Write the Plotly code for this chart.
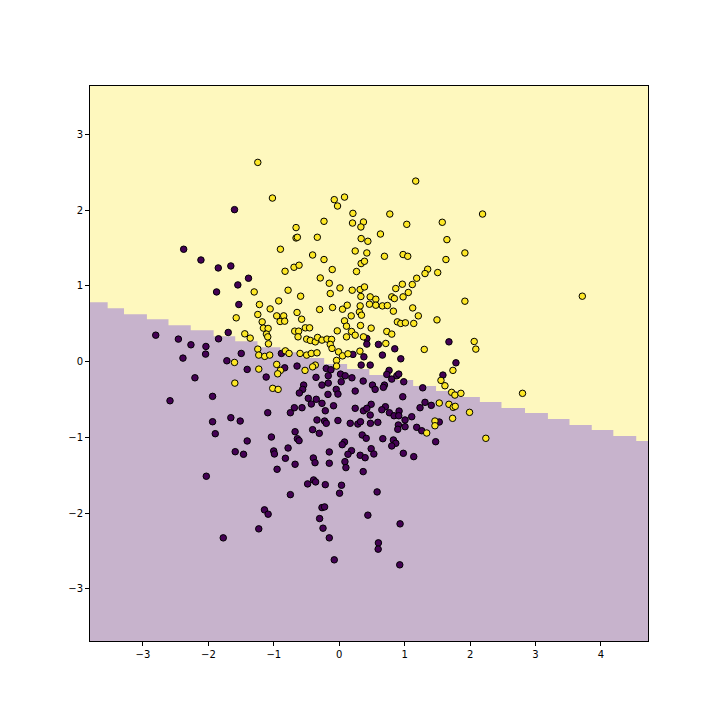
import plotly.graph_objects as go

# Decision-region boundary (staircase)
step_x_edges = [-3.81, -3.54, -3.29, -2.94, -2.61, -2.27, -1.92, -1.59, -1.25, -0.90, -0.56, -0.23,
                0.12, 0.46, 0.79, 1.13, 1.48, 1.81, 2.15, 2.48, 2.84, 3.19, 3.52, 3.86, 4.19, 4.54, 4.72]
step_levels = [0.785, 0.705, 0.626, 0.560, 0.481, 0.415, 0.336, 0.270, 0.191, 0.125, 0.046, -0.033,
               -0.099, -0.178, -0.244, -0.323, -0.389, -0.468, -0.534, -0.613, -0.679, -0.758,
               -0.838, -0.903, -0.983, -1.048]

x_range = [-3.81, 4.72]
y_range = [-3.69, 3.64]

# Class 1 (yellow) samples
class1_x = [-1.245, -1.021, -0.076, -0.026, 0.081, 0.209, -0.233, 0.203, 0.370, 0.331, -0.660, 0.630,
            -0.660, -0.640, -0.335, 0.335, 0.4375, -0.899, 0.244, 0.422, 0.691, -0.407, -0.233, 0.335,
            0.386, -0.691, -0.614, -0.828, -0.107, 0.264, -0.290, -0.152, 0.011, -0.782, 0.198, 0.320,
            0.386, 1.169, 0.773, 2.191, 1.032, 1.575, 1.646, 0.976, 1.047, 1.921, 1.631, 1.352, 1.311,
            1.505, 1.184, 0.965, 1.117, 0.864, -1.300, -1.220, -1.575, -1.245, -1.444, -1.361, -1.601,
            -1.245, -1.230, -1.230, -1.596, -0.590, -0.137, 0.331, 0.473, 0.559, -0.925, -1.056, -0.300,
            -0.102, 0.050, 0.122, 0.309, 0.320, 0.462, 0.559, 0.660, -0.645, -0.956, -0.849, -0.904,
            -0.834, -0.575, 0.183, 0.340, 0.081, 0.111, -0.030, 0.188, 0.325, 0.488, -1.178, -1.159,
            -1.087, -1.113, -1.093, -1.082, -0.681, -0.620, -0.518, -0.453, -0.630, -0.498, -0.442,
            -0.366, -0.331, -0.264, -0.1875, -0.117, -0.137, -0.111, 0.111, 0.244, 0.370, -1.139,
            -1.063, -0.823, -0.767, -0.599, -0.498, -0.427, -0.340, -0.011, 0.050, 0.133, 0.316,
            -0.956, -0.366, -0.407, -0.041, -0.041, -0.899, -0.941, -0.523, -1.017, -0.934, 1.056,
            0.976, 0.803, 0.843, 0.736, 1.123, 1.921, 0.828, 1.209, 1.494, 0.889, 0.941, 1.011, 1.139,
            0.727, 0.803, 0.712, 1.300, 2.063, 2.088, 1.738, 1.555, 1.616, 1.718, 1.768, 1.860, 1.529,
            1.677, 1.742, 1.773, 1.992, 1.463, 1.733, 3.716, 2.802, 1.337, 1.463, 2.241]
class1_y = [2.631, 2.160, 2.139, 2.055, 2.173, 1.958, 1.853, 1.830, 1.844, 1.778, 1.770, 1.685,
            1.633, 1.642, 1.642, 1.625, 1.589, 1.484, 1.461, 1.435, 1.391, 1.408, 1.348, 1.295,
            1.325, 1.246, 1.273, 1.193, 1.216, 1.190, 1.105, 1.035, 0.973, 0.943, 0.943, 0.952,
            0.986, 2.384, 1.949, 1.949, 1.813, 1.840, 1.611, 1.414, 1.391, 1.435, 1.348, 1.220,
            1.163, 1.176, 1.101, 1.022, 1.018, 0.965, 0.920, 0.754, 0.578, 0.622, 0.367, 0.310,
            -0.011, 0.165, 0.086, -0.099, -0.284, 0.864, 0.899, 0.860, 0.855, 0.824, 0.802, 0.696,
            0.688, 0.715, 0.692, 0.745, 0.657, 0.736, 0.758, 0.745, 0.736, 0.649, 0.604, 0.604,
            0.530, 0.534, 0.560, 0.604, 0.613, 0.538, 0.468, 0.406, 0.398, 0.477, 0.442, 0.525,
            0.442, 0.438, 0.363, 0.327, 0.235, 0.402, 0.402, 0.446, 0.446, 0.327, 0.297, 0.280,
            0.261, 0.319, 0.284, 0.297, 0.293, 0.227, 0.174, 0.327, 0.349, 0.327, 0.069, 0.086,
            0.142, 0.108, 0.108, 0.086, 0.108, 0.116, 0.129, 0.076, 0.103, 0.138, -0.037, -0.046,
            -0.069, 0.016, -0.059, -0.116, -0.161, -0.116, -0.353, -0.367, 0.913, 0.855, 0.855,
            0.833, 0.741, 0.709, 0.798, 0.666, 0.604, 0.551, 0.525, 0.504, 0.512, 0.504, 0.398,
            0.363, 0.240, 0.161, 0.266, 0.165, -0.116, -0.248, -0.319, -0.406, -0.442, -0.419,
            -0.547, -0.564, -0.604, -0.591, -0.670, -0.785, -0.749, 0.864, -0.419, -0.943, -0.847,
            -1.013]

# Class 0 (purple) samples
class0_x = [-1.601, -2.378, -2.114, -1.849, -1.657, -1.387, -1.550, -1.875, -1.535, -2.805, -2.459,
            -2.267, -2.038, -1.845, -1.697, -2.389, -2.043, -1.498, -1.718, -1.407, -2.206, -1.936,
            -2.587, -1.936, -1.657, -1.514, 0.422, 0.422, 0.599, -0.884, 0.209, 0.377, 0.660, -0.645,
            -0.834, 0.335, 0.473, -0.198, -0.127, 0.020, 0.091, 0.194, -1.117, -0.168, -0.355, 0.030,
            0.366, 0.508, -0.264, -0.168, -0.544, -0.559, -0.610, -0.046, 0.244, 0.549, -0.172,
            -0.020, -0.351, -0.473, -0.264, -0.427, 0.488, 0.244, 0.370, 0.422, -0.686, -0.569,
            -0.087, -1.093, -0.747, -0.213, 0.473, 1.677, 0.849, 0.941, 1.784, 1.585, 0.762, 0.727,
            0.803, 0.880, 0.910, 0.986, 0.691, 0.675, 1.276, 0.971, 1.311, 1.407, 1.235, 0.706,
            0.651, 0.767, 0.915, 0.838, 0.910, 1.108, 1.006, 1.529, -1.895, -1.407, -1.590, -1.463,
            -2.032, -1.230, -1.773, -0.340, -0.224, -0.198, -0.020, 0.168, 0.285, 0.325, 0.477,
            0.590, -1.037, -0.675, -0.407, -0.305, -0.640, -0.614, 0.351, 0.412, 0.666, -0.782,
            -1.002, -0.991, -0.152, 0.081, 0.046, 0.1875, 0.133, 0.488, 0.320, 0.396, 0.529, -0.823,
            -0.396, -0.370, -0.152, 0.087, -0.675, 0.102, -0.950, 0.366, -0.392, -0.361, -0.483,
            -0.213, 0.035, 0.005, -0.747, 0.579, -0.264, -0.224, -1.143, -1.087, -0.300, 0.4375,
            -0.248, -0.152, 0.599, 0.595, -0.076, 0.904, 0.895, 1.006, 1.184, 1.261, 0.828, 0.864,
            0.803, 0.980, 1.139, 1.474, 0.930, 0.925]
class0_y = [2.007, 1.484, 1.342, 1.237, 1.263, 1.101, 1.013, 0.920, 0.754, 0.349, 0.297, 0.222,
            0.200, 0.301, 0.385, 0.046, 0.099, 0.108, 0.011, -0.103, -0.214, -0.459, -0.517, -0.794,
            -0.741, -0.785, 0.306, 0.231, 0.227, 0.108, 0.095, 0.063, 0.086, -0.059, -0.082, -0.046,
            -0.046, -0.090, -0.108, -0.165, -0.187, -0.214, -0.204, -0.187, -0.208, -0.266, -0.257,
            -0.310, -0.310, -0.284, -0.310, -0.367, -0.415, -0.367, -0.389, -0.367, -0.433, -0.429,
            -0.498, -0.485, -0.551, -0.560, -0.564, -0.617, -0.649, -0.617, -0.609, -0.609, -0.583,
            -0.675, -0.675, -0.649, -0.706, 0.261, 0.169, 0.037, -0.016, -0.178, -0.116, -0.169,
            -0.231, -0.187, -0.165, -0.266, -0.310, -0.340, -0.346, -0.464, -0.538, -0.578, -0.609,
            -0.596, -0.636, -0.675, -0.653, -0.715, -0.715, -0.728, -0.771, -0.798, -0.952, -1.048,
            -1.190, -1.224, -1.514, -2.209, -2.328, -0.771, -0.785, -0.815, -0.778, -0.815, -0.824,
            -0.794, -0.815, -0.802, -0.996, -0.926, -0.899, -0.947, -1.018, -1.044, -0.969, -1.013,
            -1.018, -1.141, -1.180, -1.220, -1.193, -1.062, -1.097, -1.176, -1.224, -1.150, -1.237,
            -1.269, -1.220, -1.277, -1.273, -1.335, -1.342, -1.321, -1.356, -1.400, -1.422, -1.453,
            -1.563, -1.589, -1.615, -1.625, -1.633, -1.738, -1.757, -1.721, -1.928, -1.919, -1.958,
            -2.015, -2.073, -2.028, -2.200, -2.328, -2.394, -2.477, -2.618, -0.837, -0.894, -0.860,
            -0.868, -0.913, -1.035, -1.079, -1.114, -1.211, -1.255, -1.058, -2.143, -2.684]

PURPLE_BG = "rgb(199,179,204)"
YELLOW_BG = "rgb(254,248,190)"
PURPLE = "#440154"
YELLOW = "#fde725"

# Build polygon of the class-0 region from the staircase lists
poly_x, poly_y = [], []
for i, lvl in enumerate(step_levels):
    poly_x += [step_x_edges[i], step_x_edges[i + 1]]
    poly_y += [lvl, lvl]
poly_x += [x_range[1], x_range[0]]
poly_y += [y_range[0], y_range[0]]

fig = go.Figure()
fig.add_trace(go.Scatter(x=poly_x, y=poly_y, fill="toself", fillcolor=PURPLE_BG,
                         mode="lines", line=dict(width=0), hoverinfo="skip", showlegend=False))

all_x = class0_x + class1_x
all_y = class0_y + class1_y
all_c = [PURPLE] * len(class0_x) + [YELLOW] * len(class1_x)
fig.add_trace(go.Scatter(x=all_x, y=all_y, mode="markers",
                         marker=dict(size=6.5, color=all_c, line=dict(color="black", width=1)),
                         showlegend=False))

axis_common = dict(showgrid=False, zeroline=False, showline=True, linecolor="black", linewidth=1,
                   mirror=True, ticks="outside", ticklen=4, tickwidth=1, tickcolor="black",
                   tickfont=dict(family="DejaVu Sans", size=10, color="black"))
fig.update_xaxes(range=x_range, tickvals=[-3, -2, -1, 0, 1, 2, 3, 4], **axis_common)
fig.update_yaxes(range=y_range, tickvals=[-3, -2, -1, 0, 1, 2, 3], **axis_common)

# margins compensate for the 8px default page margin of the HTML body
fig.update_layout(width=720, height=720, margin=dict(l=82, r=80, t=78, b=87, pad=0),
                  plot_bgcolor=YELLOW_BG, paper_bgcolor="white")

fig.write_html("out.html")
